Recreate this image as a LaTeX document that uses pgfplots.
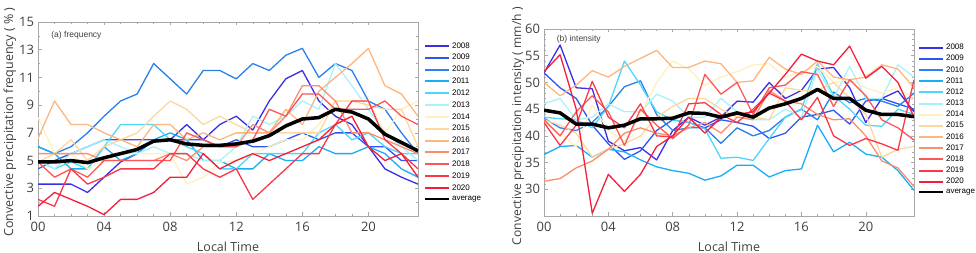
\documentclass[border=0pt]{standalone}
\usepackage{pgfplots}
\pgfplotsset{compat=1.18}
\usepackage{pgfplotstable}
\usepackage{fontspec}
\setmainfont{Open Sans}
\newfontfamily\legfont{Liberation Sans}
\definecolor{c2008}{HTML}{3A2EE6}
\definecolor{c2009}{HTML}{2F55F0}
\definecolor{c2010}{HTML}{2A80EE}
\definecolor{c2011}{HTML}{18AEF6}
\definecolor{c2012}{HTML}{4FD6F8}
\definecolor{c2013}{HTML}{A8F2FC}
\definecolor{c2014}{HTML}{FFF0C0}
\definecolor{c2015}{HTML}{FCD79E}
\definecolor{c2016}{HTML}{FCB67E}
\definecolor{c2017}{HTML}{FC8E6C}
\definecolor{c2018}{HTML}{FC5656}
\definecolor{c2019}{HTML}{FA3848}
\definecolor{c2020}{HTML}{F41E3C}
\definecolor{axgray}{HTML}{A8A8A8}
\definecolor{txtgray}{HTML}{404040}

\pgfplotstableread{
h  a08  a09  a10  a11  a12  a13  a14  a15  a16  a17  a18  a19  a20  avg
0  3.3  4.4  6.0  6.0  5.0  5.0  8.1  4.9  6.6  5.5  4.9  2.2  1.7  4.9
1  3.3  5.0  5.5  5.5  4.4  4.4  5.5  5.5  9.3  5.5  3.8  1.7  2.7  4.9
2  3.3  5.5  6.0  4.4  4.9  5.5  5.5  6.5  7.6  5.5  4.4  4.4  2.2  5.0
3  2.7  6.0  7.0  4.4  4.4  6.0  4.4  5.0  7.6  5.5  3.8  3.3  1.7  4.85
4  3.8  6.5  8.2  6.0  6.0  6.5  5.0  6.0  7.0  5.0  5.0  3.8  1.1  5.2
5  4.9  6.5  9.3  5.0  7.6  6.0  5.5  6.5  6.5  5.0  5.0  4.4  2.2  5.5
6  5.5  6.5  9.8  5.5  7.6  5.5  5.5  7.0  6.0  5.0  5.0  4.4  2.2  5.8
7  6.5  6.5  12.0 6.5  7.6  6.0  5.5  8.2  7.6  5.0  5.0  4.4  2.7  6.4
8  6.5  6.5  10.9 7.0  6.5  5.5  5.5  9.3  7.6  5.5  5.0  5.5  3.8  6.5
9  7.6  6.5  9.8  6.5  6.0  5.5  3.3  8.7  6.5  5.0  7.0  5.5  3.8  6.2
10 6.5  6.5  11.5 5.0  5.5  5.0  3.8  7.6  7.0  6.0  6.5  4.4  5.5  6.1
11 7.6  6.0  11.5 5.0  4.4  5.0  4.9  8.2  6.5  6.0  6.0  3.8  4.4  6.1
12 8.2  6.5  10.9 4.4  4.4  6.0  5.0  7.6  7.0  6.0  6.0  4.4  5.0  6.2
13 7.2  6.0  12.0 4.4  5.5  8.2  5.5  7.0  7.0  7.6  6.5  2.2  5.5  6.4
14 9.3  6.0  11.5 5.5  5.5  7.6  6.0  7.0  7.0  7.0  8.7  3.3  5.0  6.8
15 10.9 6.5  12.6 5.0  5.5  8.2  6.5  7.0  8.7  8.2  8.2  4.4  5.5  7.5
16 11.5 7.0  13.1 5.0  5.5  9.3  6.5  7.0  7.6  10.4 9.8  5.5  6.0  8.0
17 9.3  6.5  11.0 6.0  7.0  8.7  7.6  7.0  10.0 10.4 9.8  5.5  6.5  8.1
18 8.2  7.0  12.0 5.5  7.6  12.0 9.3  9.3  11.0 9.3  8.7  7.6  7.6  8.7
19 7.6  7.0  11.5 5.5  6.5  10.4 9.3  9.3  12.0 7.0  8.7  9.3  8.2  8.5
20 6.0  6.0  9.3  6.0  7.0  8.7  9.3  9.0  13.1 7.0  8.7  9.3  6.0  8.0
21 4.4  6.0  8.7  5.5  6.0  7.0  7.0  8.7  10.4 6.5  9.3  6.5  5.0  6.9
22 3.8  5.0  7.0  4.4  5.5  6.0  8.7  8.7  9.8  6.0  8.2  5.5  5.5  6.3
23 3.3  5.0  5.5  3.8  5.5  5.0  9.3  6.0  8.2  5.5  7.6  4.4  3.8  5.7
}\freqtab

\pgfplotstableread{
h  a08  a09  a10  a11  a12  a13  a14  a15  a16  a17  a18  a19  a20  avg
0  51.8 51.8 43.3 36.5 43.5 46.0 42.5 43.0 50.0 31.5 43.0 42.5 52.0 44.8
1  57.0 49.0 41.5 38.0 43.2 47.0 40.5 42.0 47.5 32.0 40.0 38.2 55.2 44.3
2  49.0 47.0 41.0 38.2 43.0 43.0 38.0 40.5 49.5 34.0 44.5 42.0 45.0 42.2
3  48.8 42.0 42.5 36.0 41.5 43.5 45.8 36.0 52.2 35.3 47.5 50.2 25.5 42.2
4  39.0 38.5 45.5 37.5 45.5 46.0 41.0 37.5 51.0 37.5 44.5 43.5 32.8 41.5
5  37.2 35.6 49.2 37.0 54.0 44.5 39.0 38.5 53.0 40.5 38.2 41.5 29.6 42.0
6  37.8 37.2 50.3 35.5 49.5 44.5 44.0 40.0 54.5 41.5 45.0 46.0 32.8 43.2
7  35.5 41.0 44.0 34.2 44.5 47.8 50.0 43.5 56.0 40.5 42.0 40.0 38.0 43.2
8  41.0 43.0 41.0 33.5 43.0 46.5 54.0 45.5 52.8 40.0 39.5 39.8 40.0 43.3
9  43.5 42.5 41.5 33.0 42.5 43.5 52.5 47.0 52.8 41.5 42.0 46.0 43.5 44.3
10 42.0 41.5 41.5 31.7 41.3 43.5 49.5 47.0 54.0 42.5 51.5 46.2 40.5 44.2
11 43.5 43.0 38.6 32.5 35.8 47.0 51.0 45.0 53.5 40.5 47.8 44.0 43.5 43.5
12 46.5 42.5 41.5 34.5 36.0 44.5 52.0 43.5 50.0 43.5 50.0 42.5 44.0 44.3
13 46.3 41.8 40.0 34.5 35.4 43.0 53.3 43.5 50.3 43.0 44.0 45.0 44.5 43.5
14 50.0 39.5 41.0 32.3 39.5 43.0 53.5 43.0 54.7 48.5 49.0 48.0 48.0 45.2
15 47.0 40.5 43.5 33.5 43.5 45.0 51.0 49.0 52.5 46.5 49.5 46.5 51.5 46.0
16 48.5 43.5 45.0 33.8 45.0 43.5 52.0 48.5 51.5 46.0 52.0 43.0 55.3 47.0
17 52.5 44.0 43.0 42.0 53.5 52.5 53.0 48.5 54.0 44.0 51.5 47.2 54.0 48.7
18 52.8 44.8 48.2 37.0 47.5 47.0 50.0 50.0 51.0 43.0 45.5 40.0 53.3 47.0
19 49.0 42.2 46.2 38.8 45.0 53.0 50.5 47.0 50.5 43.2 50.5 38.2 56.8 47.0
20 42.5 46.5 47.0 36.6 42.0 47.0 49.0 44.0 51.0 40.0 47.5 39.5 50.8 44.8
21 47.0 47.0 46.5 36.0 41.8 47.0 48.0 36.0 53.3 35.3 43.0 38.5 53.0 44.0
22 48.4 46.0 45.5 33.5 45.0 53.3 49.0 37.5 52.5 34.0 41.5 37.3 50.0 44.0
23 44.5 45.0 48.0 29.8 44.0 51.0 47.0 38.0 49.0 30.5 39.2 50.5 43.5 43.6
}\intentab

\pgfplotsset{
  legend image code/.code={\draw[line width=2pt,#1] (0pt,0pt) -- (24pt,0pt);},
  myaxis/.style={
    scale only axis,
    xmin=0, xmax=23,
    xtick={0,4,8,12,16,20},
    xticklabels={00,04,08,12,16,20},
    minor x tick num=3,
    tick align=inside,
    tick pos=both,
    major tick length=3.5pt,
    minor tick length=2pt,
    every tick/.style={axgray, line width=0.5pt},
    axis line style={axgray, line width=0.7pt},
    tick label style={font=\fontsize{13}{14}\selectfont, text=txtgray},
    /pgf/number format/assume math mode=true,
    xlabel={Local Time},
    xlabel style={font=\fontsize{12.5}{14}\selectfont, text=txtgray, at={(axis description cs:0.5,0)}, anchor=center, yshift=-31pt},
    xticklabel style={yshift=-2.5pt},
    yticklabel style={xshift=-0.5pt},
    legend cell align=left,
    legend style={draw=none, fill=none, font=\legfont\fontsize{8}{9}\selectfont, inner sep=0pt, outer sep=0pt,
      anchor=north west},
    every axis plot/.append style={line width=1.3pt, line join=round},
  }
}

\begin{document}
\begin{tikzpicture}
% Left panel
\begin{axis}[myaxis,
  at={(38pt,37pt)}, anchor=south west,
  width=380pt, height=194pt,
  ymin=1, ymax=15, ytick={1,3,...,15}, minor y tick num=1,
  ylabel={Convective precipitation frequency ( \% )},
  ylabel style={font=\fontsize{12.5}{14}\selectfont, text=txtgray, at={(axis description cs:-0.074,0.485)}, anchor=center, rotate=0},
  legend style={at={(axis description cs:1.016,0.905)}, row sep=0.75pt},
]
\addplot[c2008] table[x=h,y=a08] {\freqtab}; \addlegendentry{2008}
\addplot[c2009] table[x=h,y=a09] {\freqtab}; \addlegendentry{2009}
\addplot[c2010] table[x=h,y=a10] {\freqtab}; \addlegendentry{2010}
\addplot[c2011] table[x=h,y=a11] {\freqtab}; \addlegendentry{2011}
\addplot[c2012] table[x=h,y=a12] {\freqtab}; \addlegendentry{2012}
\addplot[c2013] table[x=h,y=a13] {\freqtab}; \addlegendentry{2013}
\addplot[c2014] table[x=h,y=a14] {\freqtab}; \addlegendentry{2014}
\addplot[c2015] table[x=h,y=a15] {\freqtab}; \addlegendentry{2015}
\addplot[c2016] table[x=h,y=a16] {\freqtab}; \addlegendentry{2016}
\addplot[c2017] table[x=h,y=a17] {\freqtab}; \addlegendentry{2017}
\addplot[c2018] table[x=h,y=a18] {\freqtab}; \addlegendentry{2018}
\addplot[c2019] table[x=h,y=a19] {\freqtab}; \addlegendentry{2019}
\addplot[c2020] table[x=h,y=a20] {\freqtab}; \addlegendentry{2020}
\addplot[black, line width=3.5pt] table[x=h,y=avg] {\freqtab}; \addlegendentry{average}
\node[anchor=west, font=\legfont\fontsize{8.5}{9}\selectfont, text=txtgray] at (axis description cs:0.026,0.933) {(a) frequency};
\end{axis}
% Right panel
\begin{axis}[myaxis,
  at={(544pt,37pt)}, anchor=south west,
  width=370pt, height=187pt,
  ymin=25, ymax=60, ytick={30,35,...,60}, minor y tick num=4,
  ylabel={Convective precipitation intensity ( mm/h )},
  ylabel style={font=\fontsize{12.1}{14}\selectfont, text=txtgray, at={(axis description cs:-0.07,0.48)}, anchor=center, rotate=0},
  legend style={at={(axis description cs:1.011,0.93)}, row sep=0.1pt},
]
\addplot[c2008] table[x=h,y=a08] {\intentab}; \addlegendentry{2008}
\addplot[c2009] table[x=h,y=a09] {\intentab}; \addlegendentry{2009}
\addplot[c2010] table[x=h,y=a10] {\intentab}; \addlegendentry{2010}
\addplot[c2011] table[x=h,y=a11] {\intentab}; \addlegendentry{2011}
\addplot[c2012] table[x=h,y=a12] {\intentab}; \addlegendentry{2012}
\addplot[c2013] table[x=h,y=a13] {\intentab}; \addlegendentry{2013}
\addplot[c2014] table[x=h,y=a14] {\intentab}; \addlegendentry{2014}
\addplot[c2015] table[x=h,y=a15] {\intentab}; \addlegendentry{2015}
\addplot[c2016] table[x=h,y=a16] {\intentab}; \addlegendentry{2016}
\addplot[c2017] table[x=h,y=a17] {\intentab}; \addlegendentry{2017}
\addplot[c2018] table[x=h,y=a18] {\intentab}; \addlegendentry{2018}
\addplot[c2019] table[x=h,y=a19] {\intentab}; \addlegendentry{2019}
\addplot[c2020] table[x=h,y=a20] {\intentab}; \addlegendentry{2020}
\addplot[black, line width=3.5pt] table[x=h,y=avg] {\intentab}; \addlegendentry{average}
\node[anchor=west, font=\legfont\fontsize{8.5}{9}\selectfont, text=txtgray] at (axis description cs:0.025,0.947) {(b) intensity};
\end{axis}
\pgfresetboundingbox
\path[use as bounding box] (0,0) rectangle (976pt,253pt);
\end{tikzpicture}
\end{document}
